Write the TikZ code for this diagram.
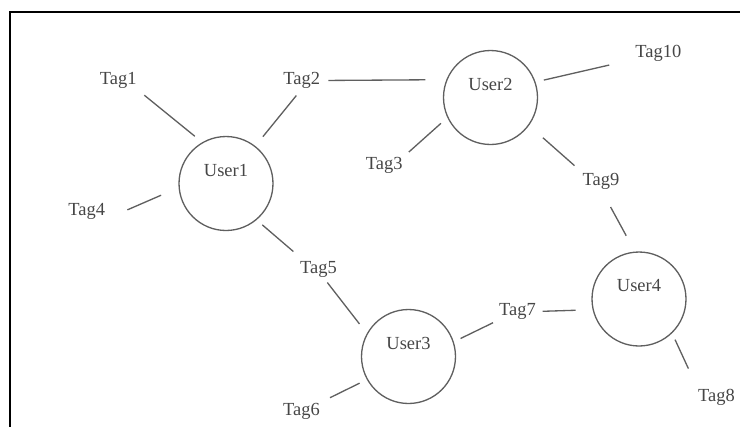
\documentclass[tikz,border=0pt]{standalone}
\usepackage{fontspec}
\setmainfont{Liberation Serif}
\definecolor{inkgray}{RGB}{70,70,70}
\definecolor{linegray}{RGB}{95,95,95}
\tikzset{user/.style={draw=linegray, line width=0.75pt, circle, minimum size=1.88cm, inner sep=0pt}}
\tikzset{uname/.style={text=inkgray, yshift=0.26cm, font=\fontsize{10.5}{12}\selectfont}}
\tikzset{tag/.style={text=inkgray, inner sep=0pt, font=\fontsize{10.5}{12}\selectfont}}
\tikzset{link/.style={draw=linegray, line width=0.75pt}}
\tikzset{frame/.style={draw=black, line width=1.1pt}}

\begin{document}
\begin{tikzpicture}[x=0.02cm, y=-0.02cm]
    \useasboundingbox (0,0) rectangle (740,427);
    \draw[frame] (740,12) -- (10,12) -- (10,427);

    \node[user, label={[uname]center:User1}] (user1) at (226,183.5) {};
    \node[user, label={[uname]center:User2}] (user2) at (490.5,97.5) {};
    \node[user, label={[uname]center:User3}] (user3) at (408.5,356.5) {};
    \node[user, label={[uname]center:User4}] (user4) at (639,299) {};

    \node[tag] (tag1) at (118.3,80.8) {Tag1};
    \node[tag] (tag2) at (301.7,80.5) {Tag2};
    \node[tag] (tag3) at (384.2,165.8) {Tag3};
    \node[tag] (tag4) at (86.7,211) {Tag4};
    \node[tag] (tag5) at (318.5,269) {Tag5};
    \node[tag] (tag6) at (301.5,411) {Tag6};
    \node[tag] (tag7) at (517.5,311.5) {Tag7};
    \node[tag] (tag8) at (716.5,397.5) {Tag8};
    \node[tag] (tag9) at (601,181) {Tag9};
    \node[tag] (tag10) at (658.3,53.3) {Tag10};

    \draw[link, shorten <=0.19cm, shorten >=0.19cm] (tag1.south east) -- (user1.120);
    \draw[link, shorten <=0.17cm, shorten >=0.24cm] (tag2.south) -- (user1.52);
    \draw[link, shorten <=0.48cm, shorten >=0.38cm] (tag4.south east) -- (user1.185);
    \draw[link, shorten <=0.28cm, shorten >=0.15cm] (tag5.150) -- (user1.-50);
    \draw[link, shorten <=0.13cm, shorten >=0.24cm] (tag5.-60) -- (user3.151);
    \draw[link, shorten <=0.22cm, shorten >=0.16cm] (tag6.north east) -- (user3.209);
    \draw[link, shorten <=0.13cm, shorten >=0.15cm] (tag7.south west) -- (user3.18);
    \draw[link, shorten <=0.13cm, shorten >=0.34cm] (tag7.east) -- (user4.193);
    \draw[link, shorten <=0.45cm, shorten >=0.14cm] (tag8.north west) -- (user4.-46);
    \draw[link, shorten <=0.40cm, shorten >=0.36cm] (tag9.south) -- (user4.95);
    \draw[link, shorten <=0.21cm, shorten >=0.37cm] (tag9.north west) -- (user2.-36);
    \draw[link, shorten <=0.16cm, shorten >=0.17cm] (tag3.north east) -- (user2.205);
    \draw[link, shorten <=0.53cm, shorten >=0.17cm] (tag10.194) -- (user2.19);
    \draw[link, shorten <=0.16cm, shorten >=0.42cm] (tag2.east) -- (user2.158);
\end{tikzpicture}
\end{document}
